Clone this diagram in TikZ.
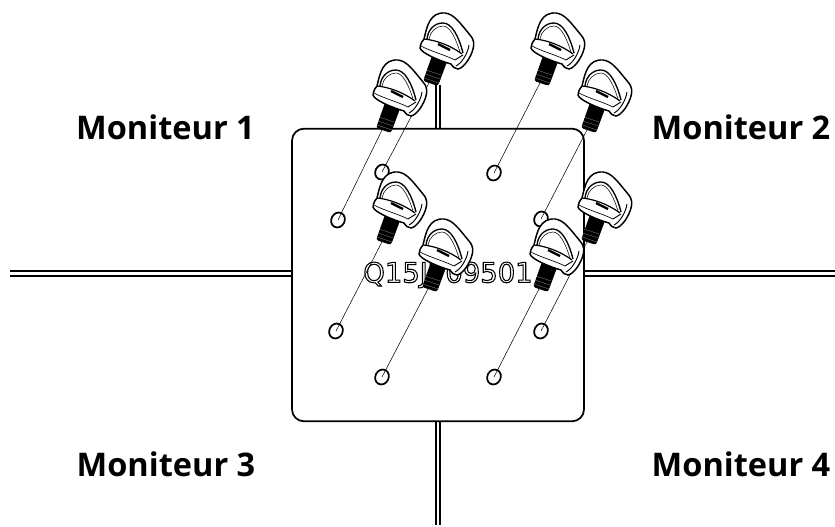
\documentclass[tikz,border=0pt]{standalone}
\usepackage{fontspec}
\usetikzlibrary{shapes.geometric}
\setmainfont{Open Sans}
\newfontfamily\serialfont{DejaVu Sans}

\tikzset{
    screw/.pic={
        % thread
        \fill[black, rounded corners=2pt] (-7,0) -- (3,-28) -- (18,-22) -- (8,5) -- cycle;
        \draw[white, line width=0.08pt] (-6,-3) -- (9,2) (-5,-7) -- (10,-2) (-4,-11) -- (11,-6);
        % head
        \draw[fill=white, line width=1.1pt] (-10,-33) .. controls (-9,-38) .. (-6,-42)
            .. controls (-3,-55) and (0,-69) .. (15,-68)
            .. controls (24,-67) and (30,-58) .. (40,-46)
            .. controls (45,-40) and (44,-36) .. (43,-32)
            .. controls (41,-24) and (34,-13) .. (28,-12)
            .. controls (25,-12) and (23,-14) .. (21,-17)
            .. controls (10,-20) and (-9,-28) .. (-10,-33) -- cycle;
        % ring
        \draw[line width=1pt] (-3,-42) .. controls (-2,-52) and (5,-58) .. (13,-58)
            .. controls (22,-58) and (29,-44) .. (33,-28);
        \draw[line width=0.4pt] (-1,-42) .. controls (0,-49) and (6,-55) .. (13,-55)
            .. controls (20,-55) and (26,-42) .. (30,-29);
        \draw[line width=0.7pt] (39,-36) .. controls (38,-28) and (32,-18) .. (26,-15);
        % disc
        \draw[line width=0.9pt] (-6,-42) .. controls (5,-41) and (20,-36) .. (32,-27);
        \draw[line width=0.5pt] (-9,-35) .. controls (0,-30) and (15,-26) .. (25,-21);
        \draw[line width=0.7pt] (25,-21) -- (33,-26);
        % slot
        \draw[line width=1.8pt] (8,-37) -- (20,-31);
    }
}

\begin{document}
\begin{tikzpicture}[
    x=0.75pt, y=-0.75pt,
    plate/.style={draw, line width=1.3pt, rounded corners=9pt, inner sep=0pt, minimum width=219pt, minimum height=219.5pt},
    hole/.style={ellipse, draw, line width=1.3pt, inner sep=0pt, minimum width=10pt, minimum height=11.5pt, rotate=-27},
    guide/.style={line width=0.4pt},
    frame/.style={line width=0.8pt},
    monitor/.style={font=\fontsize{24.4}{28}\selectfont\bfseries, inner sep=0pt}
]

\useasboundingbox (0,0) rectangle (835,527);

% Monitor edges
\coordinate (leftend1) at (10,271);
\coordinate (leftend2) at (10,276);
\coordinate (rightend1) at (835,271);
\coordinate (rightend2) at (835,276);
\coordinate (topend1) at (436,85);
\coordinate (topend2) at (440,85);
\coordinate (bottomend1) at (436,525);
\coordinate (bottomend2) at (440,525);
\coordinate (leftjoin1) at (292,271);
\coordinate (leftjoin2) at (292,276);
\coordinate (rightjoin1) at (584,271);
\coordinate (rightjoin2) at (584,276);
\coordinate (topjoin1) at (436,129);
\coordinate (topjoin2) at (440,129);
\coordinate (bottomjoin1) at (436,421);
\coordinate (bottomjoin2) at (440,421);
\draw[frame] (leftend1) -- (leftjoin1);
\draw[frame] (leftend2) -- (leftjoin2);
\draw[frame] (rightjoin1) -- (rightend1);
\draw[frame] (rightjoin2) -- (rightend2);
\draw[frame] (topend1) -- (topjoin1);
\draw[frame] (topend2) -- (topjoin2);
\draw[frame] (bottomjoin1) -- (bottomend1);
\draw[frame] (bottomjoin2) -- (bottomend2);

% Plate
\node[plate] (plate) at (438,275) {};
\node[inner sep=0pt, font=\serialfont\fontsize{20.6}{24}\selectfont] (serial) at (448,275) {\special{pdf:code 1 Tr 0.8 w}Q15J709501\special{pdf:code 0 Tr}};

% Holes
\node[hole] (hole1) at (338,220) {};
\node[hole] (hole2) at (382,172) {};
\node[hole] (hole3) at (494,173) {};
\node[hole] (hole4) at (541,219) {};
\node[hole] (hole5) at (336,331) {};
\node[hole] (hole6) at (382,377) {};
\node[hole] (hole7) at (494,377) {};
\node[hole] (hole8) at (541,331) {};

% Screw tips
\coordinate (tip1) at (383,128);
\coordinate (tip2) at (430,81);
\coordinate (tip3) at (541,81);
\coordinate (tip4) at (588,128);
\coordinate (tip5) at (383,240);
\coordinate (tip6) at (429,287);
\coordinate (tip7) at (540,287);
\coordinate (tip8) at (588,240);

% Guide lines
\draw[guide] (hole1.center) -- (tip1);
\draw[guide] (hole2.center) -- (tip2);
\draw[guide] (hole3.center) -- (tip3);
\draw[guide] (hole4.center) -- (tip4);
\draw[guide] (hole5.center) -- (tip5);
\draw[guide] (hole6.center) -- (tip6);
\draw[guide] (hole7.center) -- (tip7);
\draw[guide] (hole8.center) -- (tip8);

% Screws
\pic at (tip2) {screw};
\pic at (tip1) {screw};
\pic at (tip3) {screw};
\pic at (tip4) {screw};
\pic at (tip5) {screw};
\pic at (tip8) {screw};
\pic at (tip6) {screw};
\pic at (tip7) {screw};

% Labels
\node[monitor] (monitor1) at (165.5,127) {Moniteur 1};
\node[monitor] (monitor2) at (741,127) {Moniteur 2};
\node[monitor] (monitor3) at (166,464) {Moniteur 3};
\node[monitor] (monitor4) at (741,464) {Moniteur 4};

\end{tikzpicture}
\end{document}
